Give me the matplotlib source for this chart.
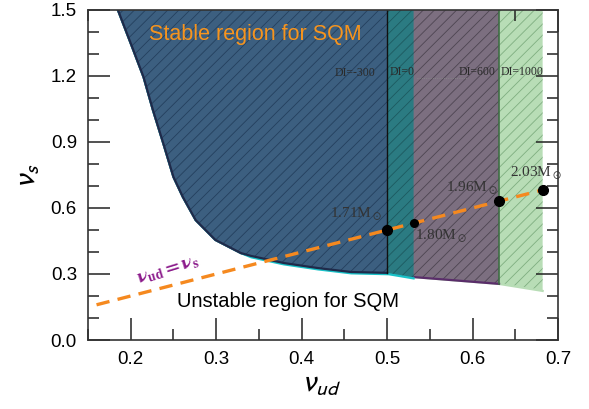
import numpy as np
import matplotlib.pyplot as plt
from matplotlib.ticker import MultipleLocator

plt.rcParams['font.family'] = ['Liberation Sans', 'DejaVu Sans']
plt.rcParams['hatch.linewidth'] = 0.6

# boundary of the stable region (nu_ud, nu_s)
edge_x = [0.185, 0.203, 0.215, 0.226, 0.238, 0.250, 0.261, 0.276, 0.299, 0.329,
          0.341, 0.379, 0.419, 0.458, 0.502, 0.531, 0.631, 0.682]
edge_y = [1.500, 1.318, 1.195, 1.045, 0.895, 0.741, 0.650, 0.545, 0.455, 0.395,
          0.382, 0.350, 0.327, 0.309, 0.305, 0.286, 0.255, 0.223]

# each region ends at its own nu_ud
di_labels = ['DI=-300', 'DI=0', 'DI=600', 'DI=1000']
di_xmax = [0.500, 0.531, 0.631, 0.682]
di_face = ['#3c5f80', '#2b7b82', '#7c6f80', '#b8ddb6']
di_hatch = ['#24405e', '#1d5a60', '#4e4552', '#7fae80']
di_edge = ['#1f2a4a', '#19c2c8', '#5a2d6a', '#b8ddb6']
di_label_x = [0.462, 0.517, 0.605, 0.658]
di_label_y = [1.214, 1.220, 1.220, 1.220]

# maximum masses on the nu_ud = nu_s line
mass_x = [0.500, 0.531, 0.631, 0.682]
mass_size = [7, 5.5, 7, 7]
mass_text = [r'1.71M$_\odot$', r'1.80M$_\odot$', r'1.96M$_\odot$', r'2.03M$_\odot$']
mass_tx = [0.494, 0.533, 0.629, 0.644]
mass_ty = [0.555, 0.455, 0.673, 0.741]
mass_ha = ['right', 'left', 'right', 'left']

line_x = [0.160, 0.682]

fig = plt.figure(figsize=(5.89, 4.09), dpi=100)
ax = fig.add_axes([0.1494, 0.1687, 0.7980, 0.8069])

ex = np.array(edge_x)
ey = np.array(edge_y)
# draw from widest (DI=1000) to narrowest (DI=-300)
for i in [3, 2, 1, 0]:
    keep = ex < di_xmax[i] - 1e-6
    bx = list(ex[keep]) + [di_xmax[i]]
    by = list(ey[keep]) + [np.interp(di_xmax[i], ex, ey)]
    if i == 1:
        # DI=0 edge sits just below the DI=-300 one
        by = [y - 0.006 if x > 0.33 else y for x, y in zip(bx, by)]
    px = bx + [di_xmax[i], edge_x[0]]
    py = by + [1.5, 1.5]
    z = 1 + (3 - i)
    ax.fill(px, py, facecolor=di_face[i], edgecolor='none', zorder=z)
    ax.fill(px, py, facecolor='none', edgecolor=di_hatch[i], hatch='///',
            linewidth=0, zorder=z)
    ax.plot(bx, by, color=di_edge[i], lw=1.6, zorder=z + 0.5)
    ax.text(di_label_x[i], di_label_y[i], di_labels[i], family='Liberation Serif',
            fontsize=8.5, color='#2a2a2a', ha='center', va='center', zorder=10)

# region borders
ax.plot([0.500, 0.500], [np.interp(0.5, ex, ey), 1.5], color='#111111', lw=1.0, zorder=6)
ax.plot([0.631, 0.631], [np.interp(0.631, ex, ey), 1.5], color='#3f6e45', lw=1.2, zorder=6)
ax.plot([0.535, 0.595], [1.19, 1.19], color='#8a8a8a', lw=0.6, ls=':', zorder=6)

# nu_ud = nu_s line
ax.plot(line_x, line_x, color='#f5891f', lw=2.4, ls=(0, (4, 2.5)), zorder=7)
for i in range(4):
    ax.plot(mass_x[i], mass_x[i], 'o', color='black', ms=mass_size[i], zorder=8)
    ax.text(mass_tx[i], mass_ty[i], mass_text[i], family='Liberation Serif',
            math_fontfamily='stix', fontsize=11, color='#333333',
            ha=mass_ha[i], va='baseline', zorder=10)

ax.text(0.244, 0.318, r'$\mathbf{\nu_{ud}= \nu_s}$', math_fontfamily='stix',
        fontsize=14, color='#8b1a8b', rotation=17, ha='center', va='center', zorder=10)
ax.text(0.346, 1.39, 'Stable region for SQM', fontsize=15.5, color='#f7941d',
        ha='center', va='center', zorder=10)
ax.text(0.384, 0.173, 'Unstable region for SQM', fontsize=14.5, color='black',
        ha='center', va='center', zorder=10)

ax.set_xlim(0.15, 0.7)
ax.set_ylim(0.0, 1.5)
ax.xaxis.set_major_locator(MultipleLocator(0.1))
ax.xaxis.set_minor_locator(MultipleLocator(0.05))
ax.yaxis.set_major_locator(MultipleLocator(0.3))
ax.yaxis.set_minor_locator(MultipleLocator(0.1))
ax.tick_params(which='both', direction='in', top=True, right=True,
               labelsize=13.5, color='#222222', width=1.1, pad=8)
ax.tick_params(which='major', length=16)
ax.tick_params(which='minor', length=8)
for s in ax.spines.values():
    s.set_color('#333333')
    s.set_linewidth(1.2)
    s.set_zorder(12)

ax.set_xlabel(r'$\nu_{ud}$', math_fontfamily='stixsans', fontsize=22, labelpad=0)
ax.set_ylabel(r'$\nu_s$', math_fontfamily='stixsans', fontsize=22, labelpad=6)

fig.savefig('out.png', dpi=100)
